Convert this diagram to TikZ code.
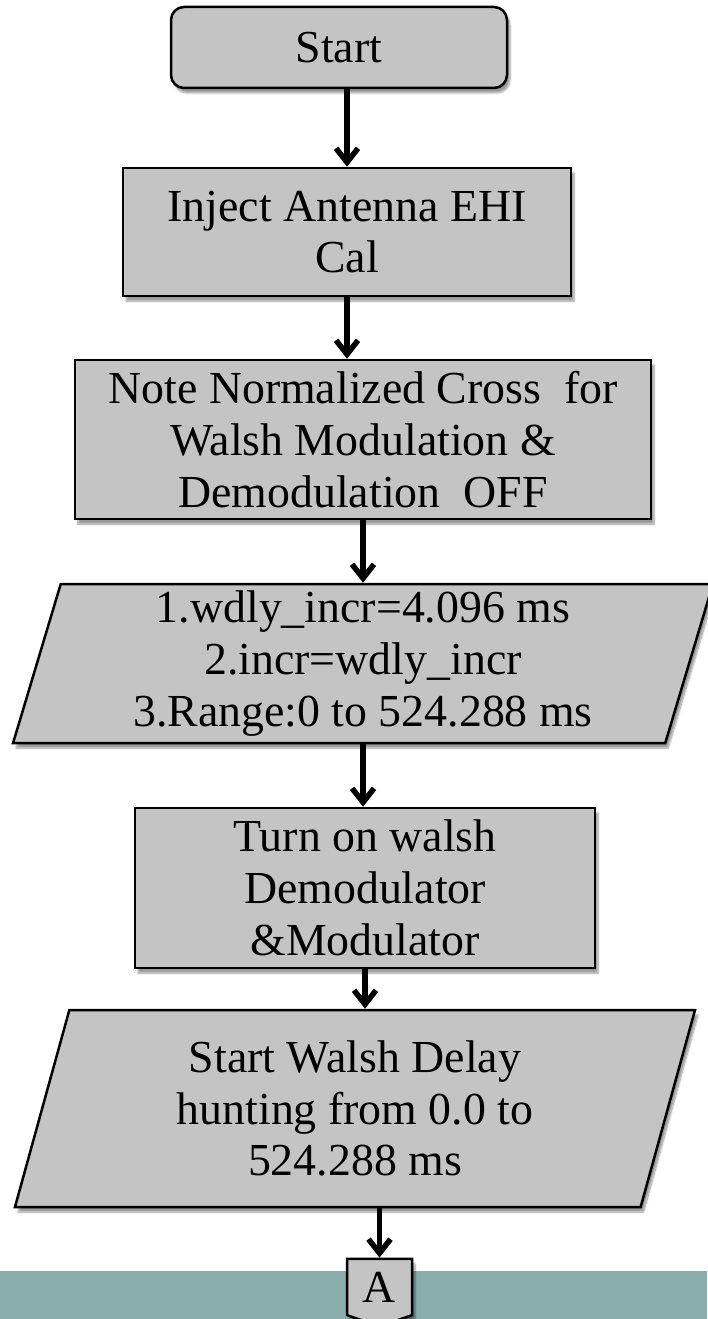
\documentclass[tikz,border=0pt]{standalone}
\usepackage{fontspec}
\setmainfont{Liberation Serif}
\usetikzlibrary{arrows.meta,shapes.geometric,shapes.symbols,shadows.blur}

\definecolor{boxgray}{HTML}{C4C4C4}
\definecolor{bandteal}{HTML}{8AADAD}

\tikzset{
  box/.style={draw, line width=2.5bp, fill=boxgray, align=center, inner sep=0pt,
    font=\fontsize{46}{52}\selectfont,
    blur shadow={shadow xshift=3bp, shadow yshift=-5bp, shadow blur steps=8, shadow opacity=40}},
  startbox/.style={box, rounded corners=13bp},
  iobox/.style={box, trapezium, trapezium left angle=76, trapezium right angle=104,
    trapezium stretches=true},
  offpage/.style={box, signal, signal to=south, signal pointer angle=142},
  flow/.style={line width=5.5bp, -{Straight Barb[length=14bp,width=22bp]}}
}

\begin{document}
\begin{tikzpicture}[x=1bp, y=-1bp]
\useasboundingbox (0,0) rectangle (707,1319);

% band along the bottom edge
\fill[bandteal] (0,1271) rectangle (707,1319);

\node (start) at (339,47.5) [startbox, minimum width=336bp, minimum height=81bp]{Start};
\node (inject) at (347,232) [box, minimum width=448bp, minimum height=128bp]{Inject Antenna EHI\\Cal};
\node (note) at (363,439.5) [box, minimum width=576bp, minimum height=159bp]{Note Normalized Cross\ \ for\\Walsh Modulation \&\\Demodulation\ \ OFF};
\node (range) at (363,663.5) [iobox, minimum width=704bp, minimum height=159bp]{1.wdly\_incr=4.096 ms\\2.incr=wdly\_incr\\3.Range:0 to 524.288 ms};
\node (turnon) at (365,888) [box, minimum width=460bp, minimum height=160bp]{Turn on walsh\\Demodulator\\\&Modulator};
\node (hunt) at (355,1108.5) [iobox, minimum width=684bp, minimum height=197bp]{Start Walsh Delay\\hunting from 0.0 to\\524.288 ms};
\node (conn) at (379.5,1287) [offpage, minimum width=65bp, minimum height=62bp]{A};

% arrows between the steps
\draw[flow] (start.south -| inject.north) -- (inject.north);
\draw[flow] (inject.south) -- (inject.south |- note.north);
\draw[flow] (note.south) -- (note.south |- range.north);
\draw[flow] (range.south) -- (range.south |- turnon.north);
\draw[flow] (turnon.south) -- (turnon.south |- hunt.north);
\draw[flow] (conn.north |- hunt.south) -- (conn.north);

\end{tikzpicture}
\end{document}
